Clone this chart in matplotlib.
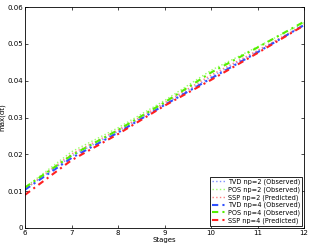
import numpy as np
import matplotlib.pyplot as plt

stages = [6, 7, 8, 9, 10, 11, 12]

tvd_np2 = [0.0105, 0.0195, 0.0262, 0.0336, 0.0410, 0.0480, 0.0550]
pos_np2 = [0.0110, 0.0207, 0.0272, 0.0346, 0.0428, 0.0492, 0.0557]
ssp_np2 = [0.0106, 0.0201, 0.0266, 0.0340, 0.0415, 0.0482, 0.0552]
tvd_np4 = [0.0104, 0.0190, 0.0259, 0.0334, 0.0406, 0.0477, 0.0551]
pos_np4 = [0.0110, 0.0197, 0.0266, 0.0341, 0.0422, 0.0490, 0.0560]
ssp_np4 = [0.0090, 0.0184, 0.0255, 0.0332, 0.0402, 0.0475, 0.0550]

labels = ['TVD np=2 (Observed)', 'POS np=2 (Observed)', 'SSP np=2 (Predicted)',
          'TVD np=4 (Observed)', 'POS np=4 (Observed)', 'SSP np=4 (Predicted)']

plt.rcParams['font.family'] = 'DejaVu Sans'
fig = plt.figure(figsize=(3.11, 2.46), dpi=100)
ax = fig.add_axes([25/311, 1 - 228/246, 279/311, 221/246])

blue, green, red = '#3050ff', '#55ee00', '#ff2020'
dd = (3, 2, 1, 2)
ax.plot(stages, tvd_np2, ':', color='#8090ff', lw=1.0, label=labels[0])
ax.plot(stages, pos_np2, ':', color='#99ff66', lw=1.0, label=labels[1])
ax.plot(stages, ssp_np2, ':', color='#ff8080', lw=1.0, label=labels[2])
ax.plot(stages, tvd_np4, color=blue, lw=1.5, dashes=dd, label=labels[3])
ax.plot(stages, pos_np4, color=green, lw=1.5, dashes=dd, label=labels[4])
ax.plot(stages, ssp_np4, color=red, lw=1.5, dashes=dd, label=labels[5])

ax.set_xlim(6, 12)
ax.set_ylim(0, 0.06)
ax.set_xticks(stages)
ax.set_yticks([0, 0.01, 0.02, 0.03, 0.04, 0.05, 0.06])
ax.set_yticklabels(['0', '0.01', '0.02', '0.03', '0.04', '0.05', '0.06'])
ax.tick_params(direction='in', top=True, right=True, labelsize=5, length=2, width=0.5, pad=1.5)
for s in ax.spines.values():
    s.set_linewidth(0.6)
ax.set_xlabel('Stages', fontsize=5, labelpad=0.5)
ax.set_ylabel('max(dt)', fontsize=5, labelpad=1)

leg = ax.legend(loc='lower right', fontsize=4.7, fancybox=False, framealpha=1,
                edgecolor='black', borderpad=0.3, labelspacing=0.2,
                handlelength=2.0, handletextpad=0.4, borderaxespad=0.3)
leg.get_frame().set_linewidth(0.6)

fig.savefig('out.png', dpi=100)
